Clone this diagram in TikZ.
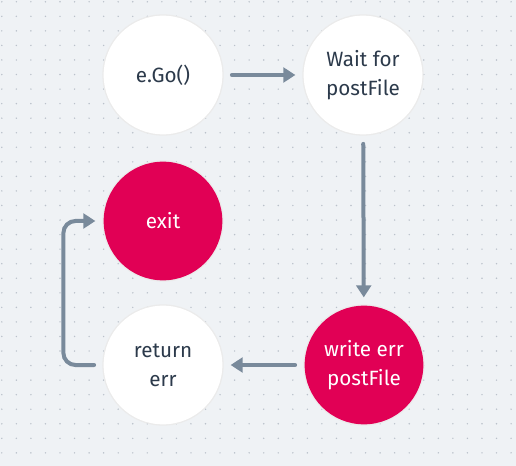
\documentclass[tikz,border=0pt]{standalone}
\usepackage{fontspec}
\setmainfont{Fira Sans}
\usepackage{xcolor}
\usetikzlibrary{arrows.meta}
\definecolor{bgpaper}{HTML}{EFF2F5}
\definecolor{griddot}{HTML}{BAC1CA}
\definecolor{flowgray}{HTML}{798A9B}
\definecolor{errred}{HTML}{E10055}
\definecolor{inkdark}{HTML}{2C3A4B}
\tikzset{
  state/.style={circle,minimum size=89pt,inner sep=0pt,align=center,
    font=\fontsize{15.5}{22}\selectfont,text=inkdark,fill=white,
    preaction={draw=black!8,line width=2pt}},
  errstate/.style={state,fill=errred,text=white},
  flow/.style={draw=flowgray,line width=3pt,line cap=round,
    -{Triangle[length=9pt,width=11pt]}}
}
\begin{document}
\begin{tikzpicture}[x=0.75pt,y=-0.75pt]
\fill[bgpaper] (0,0) rectangle (516,466);
\useasboundingbox (0,0) rectangle (516,466);
% dotted paper
\foreach \i in {0,...,35}
  \foreach \j in {0,...,31}
    \fill[griddot] (1.8+14.55*\i,1.8+14.55*\j) circle (0.6pt);
\node[state] (ego) at (163,75) {e.Go()};
\node[state] (wait) at (363,75) {Wait for\\postFile};
\node[errstate] (exit) at (163,221) {exit};
\node[state] (ret) at (163,365) {return\\err};
\node[errstate] (werr) at (364,365) {write err\\postFile};
\draw[flow,shorten <=7pt,shorten >=6pt] (ego) -- (wait);
\draw[flow,shorten <=7pt,shorten >=6pt] (wait) -- (werr);
\draw[flow,shorten <=7pt,shorten >=6pt] (werr) -- (ret);
\draw[flow,rounded corners=9pt,shorten <=7pt,shorten >=6pt] (ret.west) -- ++(-40,0) |- (exit.west);
\end{tikzpicture}
\end{document}
